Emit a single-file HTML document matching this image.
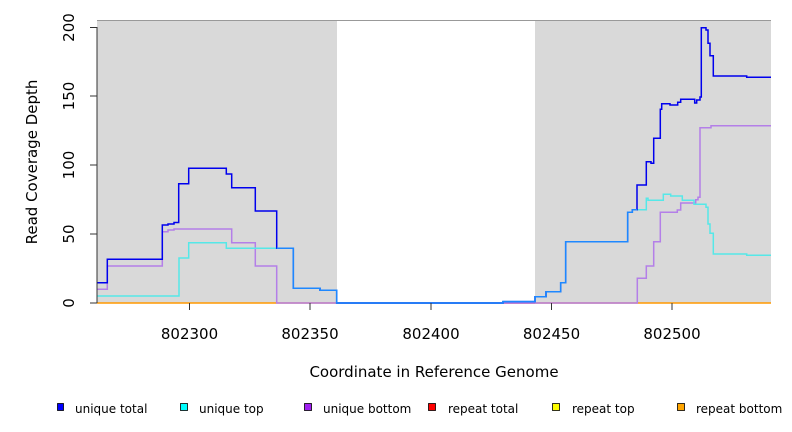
<!DOCTYPE html>
<html><head><meta charset="utf-8"><style>body{margin:0;background:#fff}svg{display:block}text{font-family:"DejaVu Sans","Liberation Sans",sans-serif}</style></head><body>
<svg width="792" height="432" viewBox="0 0 792 432" xmlns="http://www.w3.org/2000/svg">
<rect x="97" y="20" width="240" height="283" fill="#d9d9d9"/>
<rect x="535" y="20" width="236" height="283" fill="#d9d9d9"/>
<line x1="97" y1="20.5" x2="771" y2="20.5" stroke="#999" stroke-width="1"/>
<line x1="97" y1="303" x2="771" y2="303" stroke="#ff9900" stroke-width="1.5"/>
<line x1="337" y1="303" x2="535" y2="303" stroke="#d04080" stroke-width="1.5"/>
<g fill="none" stroke-width="1.5">
<polyline stroke="#b47fe8" points="97,289.3 107.3,289.3 107.3,266 162.3,266 162.3,231.7 168,231.7 168,230 174,230 174,229 231.7,229 231.7,242.7 255.3,242.7 255.3,266 276.7,266 276.7,303 637.3,303 637.3,278.3 646.3,278.3 646.3,266 653.7,266 653.7,241.7 660.3,241.7 660.3,212.3 677.3,212.3 677.3,210 680.7,210 680.7,203 695.7,203 695.7,199.7 698,199.7 698,197.3 700,197.3 700,127.7 711,127.7 711,125.7 771,125.7"/>
<polyline stroke="#55e8e8" points="97,296 179,296 179,258 188.7,258 188.7,242.7 226.3,242.7 226.3,248.3 293.3,248.3 293.3,288.3 320,288.3 320,290.3 336.7,290.3 336.7,303 503,303 503,301.6 535,301.6 535,296.7 546,296.7 546,291.7 560.7,291.7 560.7,282.7 565.7,282.7 565.7,241.7 627.7,241.7 627.7,212.3 632.3,212.3 632.3,209.7 646.3,209.7 646.3,198.3 648,198.3 648,200.3 663.3,200.3 663.3,194.3 670.7,194.3 670.7,196 682.3,196 682.3,200.3 694,200.3 694,204.3 706,204.3 706,207.3 708,207.3 708,224 710,224 710,233.3 713.3,233.3 713.3,254 746.7,254 746.7,255.3 771,255.3"/>
<polyline stroke="#0000ee" points="97,282.7 107.3,282.7 107.3,259.3 162.3,259.3 162.3,225 168,225 168,224 174,224 174,222.5 178.7,222.5 178.7,183.7 188.7,183.7 188.7,168.3 226.3,168.3 226.3,174 231.7,174 231.7,187.7 255.3,187.7 255.3,211 276.7,211 276.7,248.3 293.3,248.3 293.3,288.3 320,288.3 320,290.3 336.7,290.3 336.7,303 503,303 503,301.6 535,301.6 535,296.7 546,296.7 546,291.7 560.7,291.7 560.7,282.7 565.7,282.7 565.7,241.7 627.7,241.7 627.7,212.3 632.3,212.3 632.3,209.7 637,209.7 637,185 646.3,185 646.3,161.7 651,161.7 651,163.3 653.7,163.3 653.7,138.3 660.3,138.3 660.3,109.3 661.7,109.3 661.7,103.7 670,103.7 670,105 677.7,105 677.7,102.3 680.7,102.3 680.7,99.3 694.7,99.3 694.7,103 696.7,103 696.7,100 700,100 700,97 701.3,97 701.3,27.7 706,27.7 706,30 708,30 708,43.3 710,43.3 710,55.7 713.3,55.7 713.3,76 746.7,76 746.7,77.3 771,77.3"/>
<polyline stroke="#1e88ff" stroke-width="1.5" points="276.7,248.3 293.3,248.3 293.3,288.3 320,288.3 320,290.3 336.7,290.3 336.7,303 503,303 503,301.6 535,301.6 535,296.7 546,296.7 546,291.7 560.7,291.7 560.7,282.7 565.7,282.7 565.7,241.7 627.7,241.7 627.7,212.3 632.3,212.3 632.3,209.7 637,209.7"/>
</g>
<g stroke="#333" stroke-width="1">
<line x1="97" y1="27" x2="97" y2="303"/>
<line x1="90" y1="303" x2="97" y2="303"/><line x1="90" y1="234" x2="97" y2="234"/><line x1="90" y1="165" x2="97" y2="165"/><line x1="90" y1="96" x2="97" y2="96"/><line x1="90" y1="27.5" x2="97" y2="27.5"/>
<line x1="189.5" y1="303" x2="189.5" y2="310"/><line x1="310" y1="303" x2="310" y2="310"/><line x1="431" y1="303" x2="431" y2="310"/><line x1="551.5" y1="303" x2="551.5" y2="310"/><line x1="672" y1="303" x2="672" y2="310"/>
</g>
<g font-size="15" fill="#000" text-anchor="middle">
<text x="189.5" y="339">802300</text><text x="310" y="339">802350</text><text x="431" y="339">802400</text><text x="551.5" y="339">802450</text><text x="672" y="339">802500</text>
<text transform="translate(74,303) rotate(-90)">0</text>
<text transform="translate(74,234) rotate(-90)">50</text>
<text transform="translate(74,165) rotate(-90)">100</text>
<text transform="translate(74,96) rotate(-90)">150</text>
<text transform="translate(74,27.5) rotate(-90)">200</text>
<text x="434" y="377">Coordinate in Reference Genome</text>
<text transform="translate(37,162) rotate(-90)">Read Coverage Depth</text>
</g>
<g font-size="12" fill="#000" stroke="#000" stroke-width="0.8">
<rect x="57.5" y="403.5" width="6" height="7" fill="#0000ff"/>
<rect x="180.5" y="403.5" width="7" height="7" fill="#00ffff"/>
<rect x="304.5" y="403.5" width="7" height="7" fill="#a020f0"/>
<rect x="428.5" y="403.5" width="7" height="7" fill="#ff0000"/>
<rect x="552.5" y="403.5" width="7" height="7" fill="#ffff00"/>
<rect x="677.5" y="403.5" width="7" height="7" fill="#ffa500"/>
</g>
<g font-size="12" fill="#000">
<text x="75" y="413">unique total</text>
<text x="199" y="413">unique top</text>
<text x="323" y="413">unique bottom</text>
<text x="448" y="413">repeat total</text>
<text x="572" y="413">repeat top</text>
<text x="696" y="413">repeat bottom</text>
</g>
</svg>
</body></html>
